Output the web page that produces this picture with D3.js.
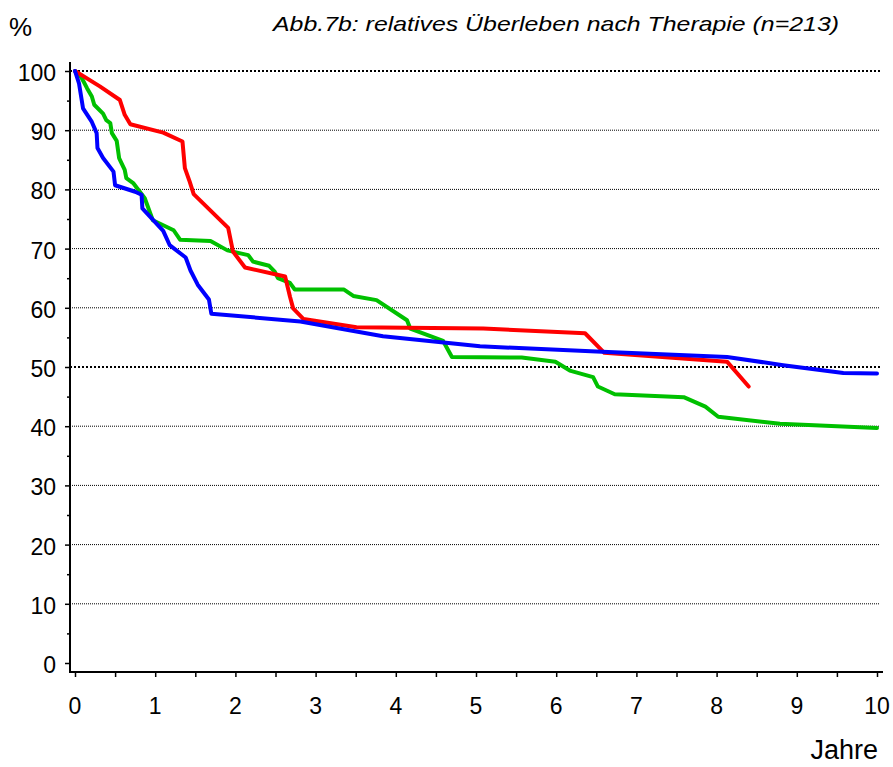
<!DOCTYPE html>
<html>
<head>
<meta charset="utf-8">
<script src="https://cdn.jsdelivr.net/npm/d3@7"></script>
<style>
  body { margin: 0; background: #fff; }
  text { font-family: "Liberation Sans", Arial, sans-serif; }
</style>
</head>
<body>
<div id="chart"></div>
<script>
// survival curves: [years, percent]
var redSeries = [[0,100],[0.31,97.4],[0.56,95.1],[0.62,92.6],[0.69,91.0],[1.10,89.6],[1.34,88.1],
  [1.37,83.6],[1.43,81.3],[1.48,79.2],[1.91,73.5],[1.97,69.5],[2.12,66.8],[2.62,65.3],[2.68,61.9],
  [2.72,59.9],[2.85,58.1],[3.51,56.7],[5.09,56.5],[6.36,55.7],[6.60,52.4],[8.13,50.9],[8.40,46.7]];

var blueSeries = [[0,100],[0.05,97.9],[0.10,93.7],[0.21,91.4],[0.27,89.5],[0.28,87.0],[0.35,85.3],
  [0.48,83.0],[0.50,80.7],[0.75,79.6],[0.83,79.1],[0.84,76.8],[1.10,73.0],[1.18,70.6],[1.38,68.5],
  [1.44,66.3],[1.53,63.9],[1.67,61.4],[1.70,59.0],[2.81,57.7],[3.84,55.2],[5.05,53.5],[6.50,52.6],
  [8.13,51.7],[8.83,50.3],[9.58,49.0],[10.0,48.9]];

var greenSeries = [[0,100],[0.08,98.9],[0.15,97.1],[0.21,95.7],[0.24,94.3],[0.35,92.8],[0.39,91.7],
  [0.44,91.2],[0.46,89.5],[0.52,88.2],[0.55,85.3],[0.62,83.3],[0.64,81.9],[0.73,81.0],[0.87,78.5],
  [0.97,74.8],[1.23,73.1],[1.31,71.5],[1.69,71.3],[1.90,69.7],[2.16,68.9],[2.22,67.8],[2.42,67.1],
  [2.49,66.1],[2.53,65.0],[2.68,64.2],[2.74,63.1],[3.35,63.1],[3.47,62.0],[3.76,61.3],[4.14,57.9],
  [4.18,56.5],[4.59,54.4],[4.70,51.7],[5.57,51.6],[5.99,50.9],[6.17,49.4],[6.46,48.3],[6.52,46.7],
  [6.73,45.4],[7.59,44.9],[7.86,43.3],[8.02,41.6],[8.79,40.4],[10.0,39.7]];

var xTicks = [0,1,2,3,4,5,6,7,8,9,10];
var yTicks = [0,10,20,30,40,50,60,70,80,90,100];
var boldGrid = [50,100];

var width = 893, height = 767;
var axisX = 70, axisY = 672;

var x = d3.scaleLinear().domain([0,10]).range([75,877]);
var y = d3.scaleLinear().domain([0,100]).range([663,71]);

var svg = d3.select("#chart").append("svg")
  .attr("width", width)
  .attr("height", height);

// grid lines
svg.append("g").selectAll("line")
  .data(yTicks.filter(function(d){ return d > 0; }))
  .enter().append("line")
  .attr("x1", axisX).attr("x2", 880)
  .attr("y1", function(d){ return y(d); })
  .attr("y2", function(d){ return y(d); })
  .style("stroke", "black")
  .style("stroke-width", function(d){ return boldGrid.indexOf(d) >= 0 ? 2 : 1; })
  .style("stroke-dasharray", function(d){ return boldGrid.indexOf(d) >= 0 ? "2,2" : "1,1"; });

// y axis
var yAxis = d3.axisLeft(y).tickValues(d3.range(0,101,5)).tickFormat("").tickSizeOuter(0)
  .tickSize(4);
var gy = svg.append("g").attr("transform", "translate(" + axisX + ",0)").call(yAxis);
gy.select(".domain").remove();
gy.selectAll(".tick line").attr("x2", function(d){ return d % 10 == 0 ? -5 : -3; })
  .style("stroke-width", 1.5);
gy.append("line").attr("x1",0).attr("x2",0).attr("y1",62).attr("y2",axisY)
  .style("stroke","black").style("stroke-width",2);

svg.append("g").selectAll("text")
  .data(yTicks).enter().append("text")
  .attr("x", 56)
  .attr("y", function(d){ return y(d) + 10; })
  .attr("text-anchor", "end")
  .style("font-size", "23px")
  .text(function(d){ return d; });

// x axis
var xAxis = d3.axisBottom(x).tickValues(d3.range(0,10.01,0.5)).tickFormat("").tickSizeOuter(0)
  .tickSize(5);
var gx = svg.append("g").attr("transform", "translate(0," + axisY + ")").call(xAxis);
gx.select(".domain").remove();
gx.selectAll(".tick line").style("stroke-width", 1.5);
gx.append("line").attr("x1", axisX - 1).attr("x2", 883).attr("y1",0).attr("y2",0)
  .style("stroke","black").style("stroke-width",2);

svg.append("g").selectAll("text")
  .data(xTicks).enter().append("text")
  .attr("x", function(d){ return x(d); })
  .attr("y", 714)
  .attr("text-anchor", "middle")
  .style("font-size", "23px")
  .text(function(d){ return d; });

// curves
var line = d3.line()
  .x(function(d){ return x(d[0]); })
  .y(function(d){ return y(d[1]); });

[[greenSeries,"#00c000"],[redSeries,"#ff0000"],[blueSeries,"#0000ff"]].forEach(function(s){
  svg.append("path")
    .datum(s[0])
    .attr("d", line)
    .style("fill", "none")
    .style("stroke", s[1])
    .style("stroke-width", 4)
    .style("stroke-linejoin", "round")
    .style("stroke-linecap", "round");
});

// labels
svg.append("text").attr("x", 9).attr("y", 36).style("font-size", "26px").text("%");
svg.append("text").attr("x", 273).attr("y", 31)
  .attr("textLength", 566).attr("lengthAdjust", "spacingAndGlyphs")
  .style("font-size", "21px").style("font-style", "italic")
  .text("Abb.7b: relatives Überleben nach Therapie (n=213)");
svg.append("text").attr("x", 878).attr("y", 759).attr("text-anchor", "end")
  .style("font-size", "27px").text("Jahre");
</script>
</body>
</html>
